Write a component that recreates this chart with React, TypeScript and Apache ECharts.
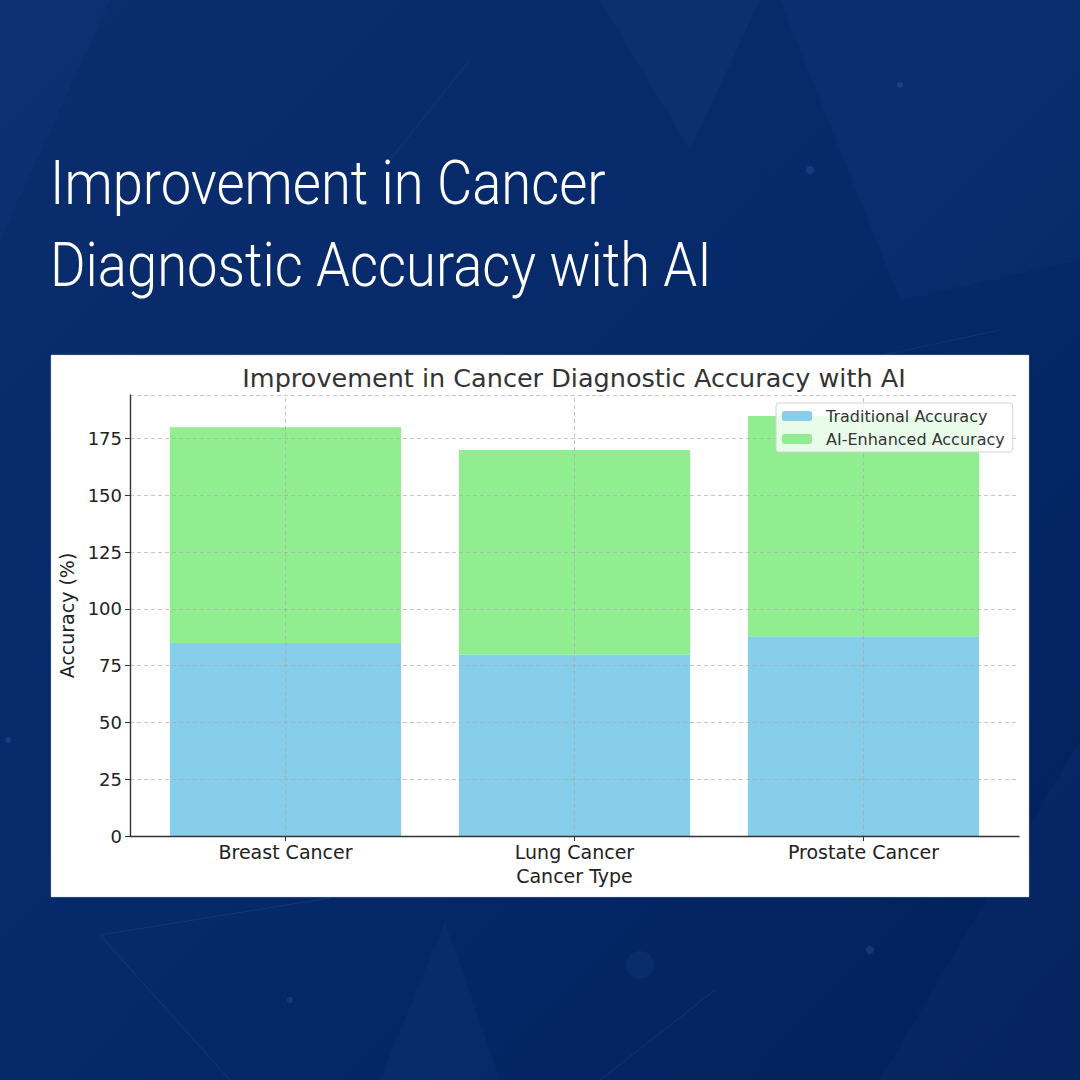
import React, { useEffect, useRef } from "react";
import * as echarts from "echarts";

const categories = ["Breast Cancer", "Lung Cancer", "Prostate Cancer"];
const traditionalAccuracy = [85, 80, 88];
const aiEnhancedAccuracy = [95, 90, 97];
const seriesNames = ["Traditional Accuracy", "AI-Enhanced Accuracy"];
const yMin = 0;
const yMax = 194.25;
const yInterval = 25;
const headerLines = ["Improvement in Cancer", "Diagnostic Accuracy with AI"];
const chartTitle = "Improvement in Cancer Diagnostic Accuracy with AI";
const xAxisName = "Cancer Type";
const yAxisName = "Accuracy (%)";

const FONT = "'DejaVu Sans', sans-serif";
const HEADER_FONT = "300 62px Roboto, 'Liberation Sans', sans-serif";

export default function App() {
  const ref = useRef<HTMLDivElement>(null);

  useEffect(() => {
    if (!ref.current) return;
    const chart = echarts.init(ref.current, null, { renderer: "svg" });

    const gridLine = { color: "rgba(170,170,170,0.75)", width: 0.9, type: [4, 3] as any };

    const option: any = {
      animation: false,
      backgroundColor: new echarts.graphic.LinearGradient(0, 0, 1, 1, [
        { offset: 0, color: "#0b2d6e" },
        { offset: 0.5, color: "#06296a" },
        { offset: 1, color: "#02215a" },
      ]),
      graphic: [
        // faint decorative shapes in the background
        { type: "polygon", z: -10, shape: { points: [[600, 0], [760, 0], [690, 150]] }, style: { fill: "rgba(255,255,255,0.025)" } },
        { type: "polygon", z: -10, shape: { points: [[780, 0], [1080, 0], [1080, 260], [900, 300]] }, style: { fill: "rgba(120,160,255,0.035)" } },
        { type: "polygon", z: -10, shape: { points: [[0, 0], [110, 0], [0, 240]] }, style: { fill: "rgba(120,160,255,0.03)" } },
        { type: "polygon", z: -10, shape: { points: [[380, 1080], [445, 922], [500, 1080]] }, style: { fill: "rgba(120,160,255,0.035)" } },
        { type: "polygon", z: -10, shape: { points: [[880, 1080], [1080, 740], [1080, 1080]] }, style: { fill: "rgba(120,160,255,0.03)" } },
        { type: "line", z: -10, shape: { x1: 100, y1: 935, x2: 330, y2: 898 }, style: { stroke: "rgba(120,160,255,0.12)", lineWidth: 1 } },
        { type: "line", z: -10, shape: { x1: 100, y1: 935, x2: 230, y2: 1080 }, style: { stroke: "rgba(120,160,255,0.12)", lineWidth: 1 } },
        { type: "line", z: -10, shape: { x1: 715, y1: 990, x2: 600, y2: 1080 }, style: { stroke: "rgba(120,160,255,0.12)", lineWidth: 1 } },
        { type: "line", z: -10, shape: { x1: 390, y1: 160, x2: 470, y2: 60 }, style: { stroke: "rgba(120,160,255,0.1)", lineWidth: 1 } },
        { type: "line", z: -10, shape: { x1: 720, y1: 390, x2: 1000, y2: 330 }, style: { stroke: "rgba(120,160,255,0.1)", lineWidth: 1 } },
        { type: "circle", z: -10, shape: { cx: 810, cy: 170, r: 4 }, style: { fill: "rgba(120,170,255,0.15)" } },
        { type: "circle", z: -10, shape: { cx: 900, cy: 85, r: 3 }, style: { fill: "rgba(120,170,255,0.15)" } },
        { type: "circle", z: -10, shape: { cx: 290, cy: 1000, r: 3 }, style: { fill: "rgba(120,170,255,0.15)" } },
        { type: "circle", z: -10, shape: { cx: 640, cy: 965, r: 14 }, style: { fill: "rgba(120,170,255,0.06)" } },
        { type: "circle", z: -10, shape: { cx: 870, cy: 950, r: 4 }, style: { fill: "rgba(120,170,255,0.15)" } },
        { type: "circle", z: -10, shape: { cx: 8, cy: 740, r: 3 }, style: { fill: "rgba(120,170,255,0.15)" } },
        // header text
        {
          type: "text", z: 10, x: 50, y: 152, scaleX: 0.877, scaleY: 1,
          style: { text: headerLines[0], fill: "#ffffff", font: HEADER_FONT, verticalAlign: "top" },
        },
        {
          type: "text", z: 10, x: 50, y: 234, scaleX: 0.877, scaleY: 1,
          style: { text: headerLines[1], fill: "#ffffff", font: HEADER_FONT, verticalAlign: "top" },
        },
        // white chart panel
        {
          type: "rect", z: -5, shape: { x: 51, y: 355, width: 978, height: 542 },
          style: { fill: "#ffffff", stroke: "rgba(180,190,210,0.8)", lineWidth: 0.5 },
        },
        // chart title
        {
          type: "text", z: 10, x: 574, y: 378,
          style: { text: chartTitle, fill: "#333333", font: `25.5px ${FONT}`, align: "center", verticalAlign: "middle" },
        },
      ],
      grid: [
        { left: 141, right: 72, top: 395, bottom: 244, containLabel: false },
        { left: 130, right: 61, top: 395, bottom: 244, containLabel: false },
      ],
      legend: {
        data: seriesNames,
        orient: "vertical",
        left: 776,
        top: 403,
        itemWidth: 30,
        itemHeight: 10,
        itemGap: 7,
        padding: [5, 8, 5, 6],
        backgroundColor: "rgba(255,255,255,0.8)",
        borderColor: "#d4d4d4",
        borderWidth: 1,
        borderRadius: 3,
        z: 10,
        textStyle: { fontFamily: FONT, fontSize: 16, color: "#333", padding: [0, 0, 0, 9] },
      },
      xAxis: [
        {
          type: "category",
          gridIndex: 0,
          data: categories,
          boundaryGap: true,
          axisLine: { show: false },
          axisTick: { show: true, alignWithLabel: true, length: 5, lineStyle: { color: "#333", width: 1 } },
          axisLabel: { fontFamily: FONT, fontSize: 19, color: "#222", margin: 6 },
          splitLine: { show: false },
          name: xAxisName,
          nameLocation: "middle",
          nameGap: 30,
          nameTextStyle: { fontFamily: FONT, fontSize: 19, color: "#222" },
        },
        {
          type: "value",
          gridIndex: 1,
          min: 0,
          max: 1,
          z: 6,
          axisLine: { show: true, lineStyle: { color: "#333", width: 1.4 } },
          axisTick: { show: false },
          axisLabel: { show: false },
          splitLine: { show: false },
        },
      ],
      yAxis: [
        {
          type: "value",
          gridIndex: 0,
          min: yMin,
          max: yMax,
          interval: yInterval,
          show: false,
          splitLine: { show: false },
        },
        {
          type: "value",
          gridIndex: 1,
          min: yMin,
          max: yMax,
          interval: yInterval,
          z: 6,
          axisLine: { show: true, lineStyle: { color: "#333", width: 1.4 } },
          axisTick: { show: true, length: 5, lineStyle: { color: "#333", width: 1 } },
          axisLabel: { fontFamily: FONT, fontSize: 18, color: "#222", margin: 8, showMaxLabel: false },
          splitLine: { show: true, lineStyle: gridLine },
          name: yAxisName,
          nameLocation: "middle",
          nameGap: 50,
          nameTextStyle: { fontFamily: FONT, fontSize: 19, color: "#222" },
        },
      ],
      series: [
        {
          name: seriesNames[0],
          type: "bar",
          xAxisIndex: 0,
          yAxisIndex: 0,
          stack: "total",
          barWidth: "80%",
          data: traditionalAccuracy,
          itemStyle: { color: "#87CEEB" },
        },
        {
          name: seriesNames[1],
          type: "bar",
          xAxisIndex: 0,
          yAxisIndex: 0,
          stack: "total",
          barWidth: "80%",
          data: aiEnhancedAccuracy,
          itemStyle: { color: "#90EE90" },
          markLine: {
            silent: true,
            symbol: ["none", "none"],
            label: { show: false },
            lineStyle: gridLine,
            data: categories.map((c) => ({ xAxis: c })),
          },
        },
      ],
    };

    chart.setOption(option);
    return () => chart.dispose();
  }, []);

  return (
    <div
      ref={ref}
      style={{ position: "absolute", left: 0, top: 0, width: 1080, height: 1080 }}
    />
  );
}
